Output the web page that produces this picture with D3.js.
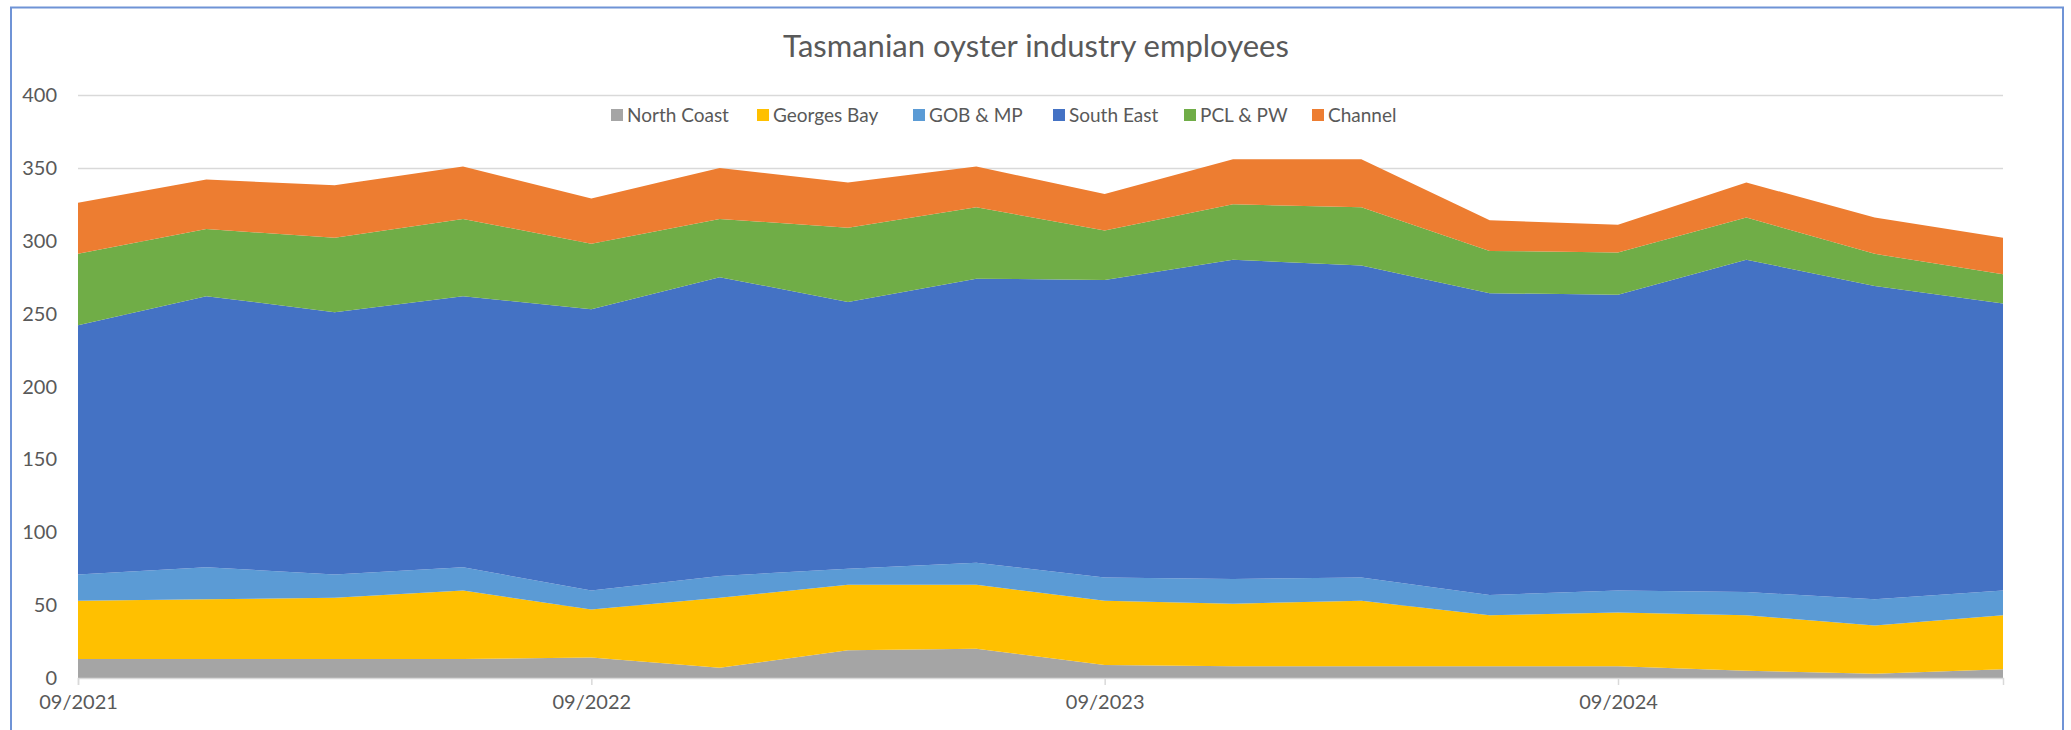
<!doctype html>
<html>
  <head>
    <meta charset="utf-8">
    <title>Tasmanian oyster industry employees</title>
    <script src="https://cdnjs.cloudflare.com/ajax/libs/d3/7.8.5/d3.min.js"></script>
    <style>
      html, body {
        margin: 0;
        padding: 0;
        background: #fff;
        overflow: hidden;
      }
      svg {
        display: block;
        font-family: Lato, "Open Sans", sans-serif;
      }
    </style>
  </head>

  <body>
    <div id="chart"></div>

    <script>
      // Quarterly periods (month/year)
      const periods = [
        '09/2021', '12/2021', '03/2022', '06/2022',
        '09/2022', '12/2022', '03/2023', '06/2023',
        '09/2023', '12/2023', '03/2024', '06/2024',
        '09/2024', '12/2024', '03/2025', '06/2025'
      ];

      // Series, stacked bottom to top
      const seriesNames = ['North Coast', 'Georges Bay', 'GOB & MP', 'South East', 'PCL & PW', 'Channel'];
      const northCoast = [13, 13, 13, 13, 14, 7, 19, 20, 9, 8, 8, 8, 8, 5, 3, 6];
      const georgesBay = [40, 41, 42, 47, 33, 48, 45, 44, 44, 43, 45, 35, 37, 38, 33, 37];
      const gobMp      = [18, 22, 16, 16, 13, 15, 11, 15, 16, 17, 16, 14, 15, 16, 18, 17];
      const southEast  = [171, 186, 180, 186, 193, 205, 183, 195, 204, 219, 214, 207, 203, 228, 215, 197];
      const pclPw      = [49, 46, 51, 53, 45, 40, 51, 49, 34, 38, 40, 29, 29, 29, 22, 20];
      const channel    = [35, 34, 36, 36, 31, 35, 31, 28, 25, 31, 33, 21, 19, 24, 25, 25];

      const yTicks = [0, 50, 100, 150, 200, 250, 300, 350, 400];
      const xLabels = ['09/2021', '09/2022', '09/2023', '09/2024'];

      const colors = ['#a5a5a5', '#ffc000', '#5b9bd5', '#4472c4', '#70ad47', '#ed7d31'];

      // build rows for d3.stack
      const seriesValues = [northCoast, georgesBay, gobMp, southEast, pclPw, channel];
      const rows = periods.map((p, i) => {
        const row = { period: p };
        seriesNames.forEach((name, k) => { row[name] = seriesValues[k][i]; });
        return row;
      });

      const width = 2071;
      const height = 730;
      const plot = { left: 78, right: 2003, top: 95, bottom: 678 };

      const svg = d3.select('#chart')
        .append('svg')
        .attr('width', width)
        .attr('height', height);

      // chart frame
      svg.append('rect')
        .attr('x', 11)
        .attr('y', 7.5)
        .attr('width', 2052)
        .attr('height', 760)
        .attr('fill', 'none')
        .attr('stroke', '#6f93d6')
        .attr('stroke-width', 2);

      const x = d3.scalePoint()
        .domain(periods)
        .range([plot.left, plot.right]);

      const y = d3.scaleLinear()
        .domain([0, 400])
        .range([plot.bottom, plot.top]);

      // gridlines
      svg.append('g')
        .selectAll('line')
        .data(yTicks.filter(d => d > 0))
        .join('line')
        .attr('x1', plot.left)
        .attr('x2', plot.right)
        .attr('y1', d => y(d) + 0.5)
        .attr('y2', d => y(d) + 0.5)
        .attr('stroke', '#d9d9d9')
        .attr('stroke-width', 1.5);

      // stacked areas
      const stack = d3.stack().keys(seriesNames);
      const layers = stack(rows);

      const area = d3.area()
        .x(d => x(d.data.period))
        .y0(d => y(d[0]))
        .y1(d => y(d[1]));

      svg.append('g')
        .selectAll('path')
        .data(layers)
        .join('path')
        .attr('d', area)
        .attr('fill', (d, i) => colors[i]);

      // x axis
      const xAxis = svg.append('g')
        .attr('transform', `translate(0,${plot.bottom})`)
        .call(d3.axisBottom(x).tickValues(xLabels).tickSize(7).tickPadding(10));
      xAxis.select('.domain')
        .attr('stroke', '#d9d9d9')
        .attr('stroke-width', 1.5);
      xAxis.selectAll('.tick line')
        .attr('stroke', '#d9d9d9')
        .attr('stroke-width', 1.5);
      xAxis.selectAll('.tick text')
        .attr('fill', '#595959')
        .attr('font-family', 'Lato, sans-serif')
        .attr('font-size', 20);

      // y axis labels
      svg.append('g')
        .selectAll('text')
        .data(yTicks)
        .join('text')
        .attr('x', 57)
        .attr('y', d => y(d))
        .attr('dy', '0.35em')
        .attr('text-anchor', 'end')
        .attr('fill', '#595959')
        .attr('font-size', 20)
        .text(d => d);

      // title
      svg.append('text')
        .attr('x', 1036)
        .attr('y', 46)
        .attr('dy', '0.35em')
        .attr('text-anchor', 'middle')
        .attr('fill', '#595959')
        .attr('font-size', 31)
        .text('Tasmanian oyster industry employees');

      // legend
      const legendX = [611, 757, 913, 1053, 1184, 1312];
      const legend = svg.append('g')
        .selectAll('g')
        .data(seriesNames)
        .join('g')
        .attr('transform', (d, i) => `translate(${legendX[i]},115)`);

      legend.append('rect')
        .attr('x', 0)
        .attr('y', -6)
        .attr('width', 12)
        .attr('height', 12)
        .attr('fill', (d, i) => colors[i]);

      legend.append('text')
        .attr('x', 16)
        .attr('dy', '0.35em')
        .attr('fill', '#595959')
        .attr('font-size', 19)
        .text(d => d);
    </script>
  </body>
</html>
